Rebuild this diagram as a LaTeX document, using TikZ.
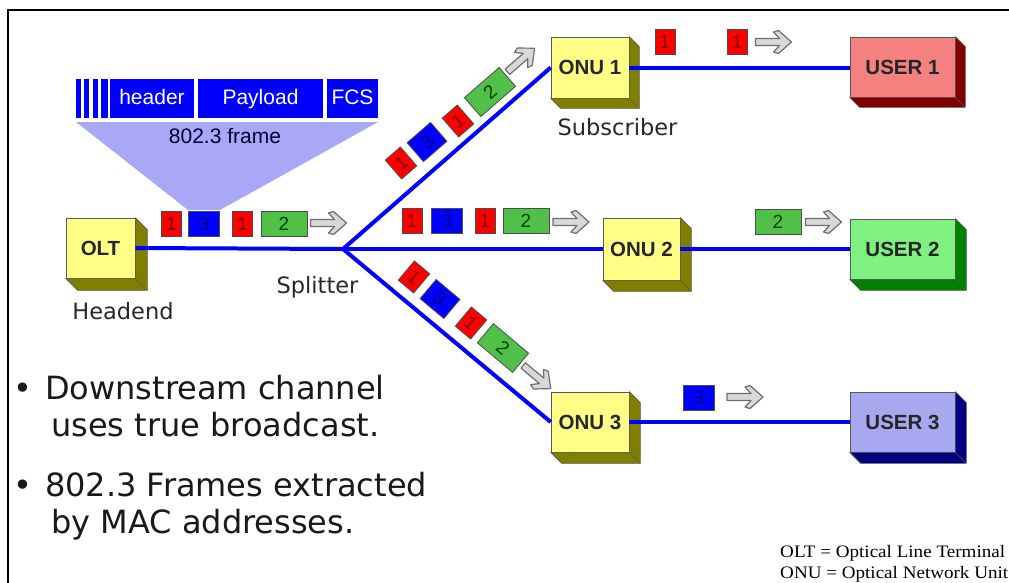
\documentclass[tikz,border=0pt]{standalone}
\usepackage{fontspec}
\setmainfont{Liberation Sans}
\newfontfamily\arialf{Liberation Sans}
\newfontfamily\verdf{DejaVu Sans}
\newfontfamily\serff{Liberation Serif}
\definecolor{netblue}{RGB}{0,0,255}
\definecolor{trap}{RGB}{168,168,246}
\definecolor{yelF}{RGB}{255,255,136}
\definecolor{yelD}{RGB}{128,128,0}
\definecolor{redF}{RGB}{244,128,128}
\definecolor{redD}{RGB}{128,0,0}
\definecolor{grnF}{RGB}{128,240,128}
\definecolor{grnD}{RGB}{0,128,0}
\definecolor{bluF}{RGB}{168,168,240}
\definecolor{bluD}{RGB}{0,0,128}
\definecolor{pktR}{RGB}{255,0,0}
\definecolor{pktB}{RGB}{0,0,255}
\definecolor{pktG}{RGB}{80,192,72}
\definecolor{arrF}{RGB}{216,216,216}
\definecolor{arrD}{RGB}{110,110,110}
\definecolor{txt}{RGB}{40,40,40}
\newcommand\extrude[3]{%
  \filldraw[fill=#2, draw=black!65, line width=0.6pt, line join=round]
    (#1.north east) -- ++(#3,#3) -- ([shift={(#3,#3)}]#1.south east)
    -- ([shift={(#3,#3)}]#1.south west) -- (#1.south west) -- (#1.south east) -- cycle;
  \draw[black!65, line width=0.6pt] (#1.south east) -- ++(#3,#3);}
\tikzset{
  fiber/.style={draw=netblue, line width=4pt},
  box3d/.style={draw=black!65, line width=0.6pt, inner sep=0pt,
    font=\arialf\bfseries\fontsize{20.5}{20.5}\selectfont, text=black!85},
  hdr/.style={fill=netblue, text=white, minimum height=39, inner sep=0pt,
    text height=15.5, text depth=4.5, font=\arialf\fontsize{21}{21}\selectfont},
  pkt/.style={draw=black!70, line width=0.8pt, minimum height=25, inner sep=0pt,
    text height=13.5, text depth=0, font=\arialf\fontsize{19}{19}\selectfont},
  rp/.style={pkt, fill=pktR, text=redD, minimum width=20},
  bp/.style={pkt, fill=pktB, text=bluD, minimum width=31},
  gp/.style={pkt, fill=pktG, text=black!75!green, minimum width=46},
  lbl/.style={font=\verdf\fontsize{22.5}{22.5}\selectfont, text=txt, inner sep=0pt, anchor=base},
  bul/.style={font=\verdf\fontsize{32}{37}\selectfont, text=black!90, inner sep=0pt, anchor=base west},
  legend/.style={font=\serff\fontsize{17.5}{20}\selectfont, text=black, inner sep=0pt, anchor=base west, xscale=1.09},
  garrow/.pic={\filldraw[fill=arrF, draw=arrD, line width=1.2pt, line join=round]
    (-18,-3.5) -- (6,-3.5) -- (0,-10) -- (5,-11.5) -- (18,0) -- (5,11.5) -- (0,10)
    -- (6,3.5) -- (-18,3.5) -- cycle;}
}
\begin{document}
\begin{tikzpicture}[x=1pt,y=-1pt]
\useasboundingbox (0,0) rectangle (1009,582);
\fill[white] (0,0) rectangle (1009,582);
\draw[line width=2pt] (8,583) -- (8,10) -- (1010,10);

% 802.3 frame
\fill[trap] (76,122) -- (378,122) -- (220,210) -- (188,210) -- cycle;
\fill[netblue] (76,79) rectangle (81,118);
\fill[netblue] (84,79) rectangle (89,118);
\fill[netblue] (93,79) rectangle (98,118);
\fill[netblue] (101,79) rectangle (108,118);
\node[hdr, minimum width=84] (header) at (152,98.5) {header};
\node[hdr, minimum width=125] (payload) at (260.5,98.5) {Payload};
\node[hdr, minimum width=51] (fcs) at (352.5,98.5) {FCS};
\node[font=\arialf\fontsize{21}{21}\selectfont, text=black!80!blue, inner sep=0pt] (frame) at (225,136) {802.3 frame};

% boxes
\node[box3d, fill=yelF, minimum width=69, minimum height=60] (olt) at (100.5,248) {OLT};
\extrude{olt}{yelD}{12}
\node[box3d, fill=yelF, minimum width=78, minimum height=61] (onu1) at (590,67.5) {ONU 1};
\extrude{onu1}{yelD}{10}
\node[box3d, fill=yelF, minimum width=77, minimum height=62] (onu2) at (641.5,249) {ONU 2};
\extrude{onu2}{yelD}{11}
\node[box3d, fill=yelF, minimum width=78, minimum height=60] (onu3) at (590,422) {ONU 3};
\extrude{onu3}{yelD}{11}
\node[box3d, fill=redF, minimum width=105, minimum height=60] (user1) at (902.5,67) {USER 1};
\extrude{user1}{redD}{10}
\node[box3d, fill=grnF, minimum width=105, minimum height=60] (user2) at (902.5,249) {USER 2};
\extrude{user2}{grnD}{11}
\node[box3d, fill=bluF, minimum width=105, minimum height=60] (user3) at (902.5,422) {USER 3};
\extrude{user3}{bluD}{11}

% fibers
\coordinate (split) at (343,249);
\draw[fiber] (olt.east) -- (split);
\draw[fiber] (split) -- (onu1.west);
\draw[fiber] (split) -- (onu2.west);
\draw[fiber] (split) -- (onu3.west);
\draw[fiber] (onu1.east) -- (user1.west |- onu1.east);
\draw[fiber] (onu2.east) -- (user2.west |- onu2.east);
\draw[fiber] (onu3.east) -- (user3.west |- onu3.east);

% labels
\node[lbl] (headend) at (123,319) {Headend};
\node[lbl] (splitter) at (317.5,293) {Splitter};
\node[lbl] (subscriber) at (617.5,135) {Subscriber};

% packets on OLT line
\node[rp] (a1) at (171.5,223.5) {1};
\node[bp] (a2) at (204,223.5) {3};
\node[rp] (a3) at (242.5,223.5) {1};
\node[gp] (a4) at (284,223.5) {2};
\pic at (328.5,223) {garrow};

% upper branch
\node[rp, rotate=41] (u1) at (401,163) {1};
\node[bp, rotate=41] (u2) at (427,142) {3};
\node[rp, rotate=41] (u3) at (458,121) {1};
\node[gp, rotate=41] (u4) at (490,92) {2};
\pic[rotate=41] at (521,60) {garrow};

% middle branch
\node[rp] (m1) at (412,221) {1};
\node[bp] (m2) at (447,221) {3};
\node[rp] (m3) at (485,221) {1};
\node[gp] (m4) at (526,221) {2};
\pic at (571,222) {garrow};

% lower branch
\node[rp, rotate=-40] (l1) at (414,277) {1};
\node[bp, rotate=-40] (l2) at (440,299) {3};
\node[rp, rotate=-40] (l3) at (471,323) {1};
\node[gp, rotate=-40] (l4) at (503,348) {2};
\pic[rotate=-40] at (537,377) {garrow};

% user side packets
\node[rp] (o1a) at (665,42) {1};
\node[rp] (o1b) at (737.5,42) {1};
\pic at (773.5,42) {garrow};
\node[gp] (o2) at (778,221.5) {2};
\pic at (823.5,222) {garrow};
\node[bp] (o3) at (699,397.5) {3};
\pic at (745,397) {garrow};

% bullets
\node[bul, anchor=base] (dot1) at (23,399) {•};
\node[bul] (t1) at (45,399) {Downstream channel};
\node[bul] (t2) at (51,436) {uses true broadcast.};
\node[bul, anchor=base] (dot2) at (23,496) {•};
\node[bul] (t3) at (45,496) {802.3 Frames extracted};
\node[bul] (t4) at (51,533) {by MAC addresses.};

% legend
\node[legend] (leg1) at (780,557) {OLT = Optical Line Terminal};
\node[legend] (leg2) at (780,578) {ONU = Optical Network Unit};
\end{tikzpicture}
\end{document}
